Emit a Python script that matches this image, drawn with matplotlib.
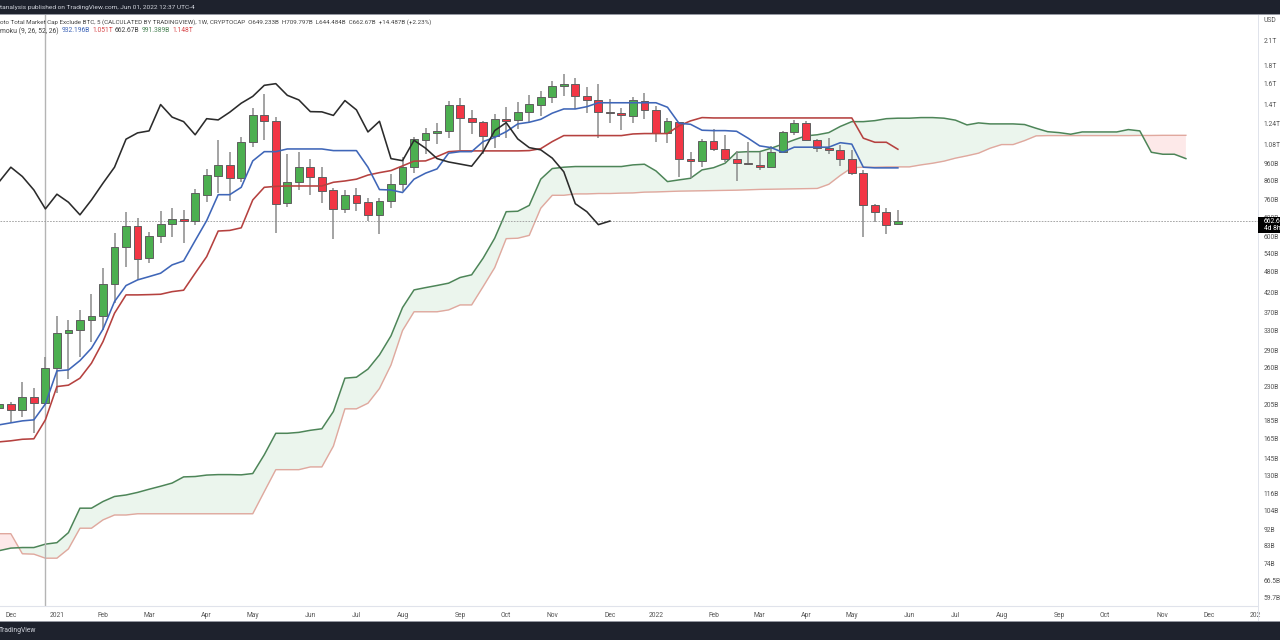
import numpy as np
import matplotlib
matplotlib.use("Agg")
import matplotlib.pyplot as plt
from matplotlib.patches import Rectangle

# all prices in billions USD, one candle per week, week 0 is the crosshair candle
weeks = np.arange(-4, 75)

opens = [199.9, 205.6, 198, 214.6, 206.6, 259.5, 323.3, 329.7, 351.5, 360.5, 444.3, 560.3, 643.6, 522.7, 604, 651,
         673.6, 665, 785.5, 887, 951.7, 872, 1098.4, 1304, 1256, 746, 850, 938, 878, 808, 714, 785, 748, 690, 754,
         841, 940, 1117, 1163, 1181, 1396, 1281, 1251, 1146, 1277, 1270, 1331, 1398, 1465, 1577, 1591, 1473, 1443,
         1336, 1323, 1300, 1431, 1348, 1163, 1248, 985, 976, 1108, 1054, 985, 962, 952, 940, 1032.5, 1175, 1243,
         1117, 1057, 1043, 985, 904, 737, 702, 649.2]
highs = [206.9, 208.7, 237.3, 227.5, 278.4, 361.2, 352.2, 375.4, 415.8, 492.1, 613.3, 704.3, 675.3, 619.8, 707.6, 720,
         712, 813, 924, 1114.7, 1032.5, 1138.6, 1365, 1493, 1294, 1019, 1032.5, 985, 936, 818, 809, 818, 768, 770, 895,
         1002, 1138.6, 1201, 1240, 1431, 1461, 1351, 1261, 1317, 1379, 1423, 1486, 1525, 1629, 1700, 1654, 1562, 1591,
         1446, 1365, 1465, 1505, 1387, 1281, 1253, 1034, 1120, 1196, 1152, 1039, 1098, 1034, 1073, 1183, 1267, 1261,
         1124, 1127, 1080, 1046, 920, 741, 723, 709.8]
lows = [198, 182.5, 188.9, 171.2, 205.6, 220.3, 241.4, 277.3, 305.2, 330.3, 391.9, 495.4, 454.9, 506.3, 575.4, 597.9,
        577.6, 647, 748, 792.4, 754, 853.6, 1068, 1114.7, 613.3, 727, 809.4, 784, 743, 590.3, 697, 707, 662.5, 610, 723,
        806, 904, 1017, 1085, 1131, 1045.6, 1158, 1017, 1057, 1127, 1196, 1253, 1300, 1410, 1473, 1357, 1328, 1127,
        1240, 1188, 1240, 1273, 1103, 1091, 878, 873, 936, 1041, 970, 859, 950, 920, 936, 1028, 1152, 1110,
        1030, 1019, 944, 892, 600, 661, 611, 644.5]
closes = [205.6, 198, 214.6, 207.4, 258.5, 323.3, 330.3, 351.5, 360.5, 443.3, 560.3, 643.6, 521.3, 602.9, 651, 673.6,
          663.7, 792.4, 889, 951.7, 872, 1098.4, 1308, 1259, 738.6, 850, 936, 878, 806, 714, 785, 746, 688, 753, 841,
          938, 1120, 1163, 1178, 1392, 1281, 1253, 1146, 1277, 1261, 1331, 1402, 1465, 1577, 1595, 1480, 1443, 1331,
          1328, 1304, 1437, 1351, 1168, 1256, 985, 974.5, 1108, 1052, 985, 962, 954, 940, 1032.5, 1175, 1243, 1117,
          1061, 1043, 985, 904, 737, 702, 647, 662.67]

conversion = [179.9, 182.2, 184.5, 185.7, 205.6, 254.1, 255.7, 271.4, 293.8, 331.8, 396, 438.8, 454.9, 464.6, 474.8,
              500.8, 513.8, 585, 665, 785, 785, 823, 974.5, 1034, 1034, 1052, 1052, 1052, 1052, 1041, 1041, 1041, 936,
              811, 809, 796, 867, 901, 926, 1024, 1034, 1034, 1103, 1133, 1175, 1235, 1248, 1272, 1323, 1359, 1359,
              1379, 1414, 1414, 1414, 1414, 1414, 1414, 1374, 1240, 1232, 1186, 1183, 1183, 1178, 1127, 1073, 1061,
              1030, 1064, 1064, 1064, 1064, 1095, 1085, 936, 932, 932, 932]
base = [161.3, 162.4, 164, 164.5, 185.7, 229.8, 231.9, 242.5, 266.9, 306.4, 367.5, 413.3, 413.3, 414, 415, 422, 425.9,
        474.8, 528, 622, 624.5, 635, 759, 823, 828, 830, 830, 830, 830, 850, 857, 867, 890, 904, 916, 944, 973, 974.5,
        1002, 1034, 1039, 1039, 1039, 1039, 1039, 1039, 1041, 1054, 1103, 1146, 1146, 1146, 1146, 1146, 1146, 1158,
        1161, 1161, 1161, 1220, 1259, 1286, 1283, 1283, 1283, 1283, 1283, 1283, 1283, 1283, 1283, 1283, 1283, 1283,
        1283, 1127, 1098, 1098, 1050]
lagging = [853.6, 936, 882, 809, 716.7, 787.5, 748, 690, 759, 845, 936, 1120, 1166, 1181, 1398, 1290, 1253, 1152, 1277,
           1267, 1331, 1410, 1473, 1581, 1598, 1483, 1440, 1336, 1334, 1304, 1434, 1351, 1173, 1256, 989, 976, 1112,
           1057, 989, 968, 955, 942, 1034, 1183, 1245, 1122, 1061, 1046, 992, 909, 741, 704, 648, 663]
lead_a = [80.4, 81.7, 82, 82, 83.8, 84.6, 90.2, 105.5, 105.5, 110.1, 113.7, 114.8, 116.7, 119.1, 121.4, 123.9, 128.9,
          129.2, 130.4, 130.8, 130.8, 130.6, 131.7, 148.5, 170.4, 170.4, 171.4, 173.7, 175.4, 195.9, 242.5, 244, 257,
          281.5, 318, 381, 426.7, 433, 439, 445.5, 462, 470, 523, 594, 704, 706, 733, 867, 928, 936, 940, 940, 940,
          940, 940, 950, 954, 914, 853.6, 863, 872, 920, 933, 960, 1030, 1034, 1034, 1057, 1085, 1115, 1144, 1152,
          1168, 1215, 1253, 1253, 1261, 1277, 1281, 1281, 1286, 1286, 1281, 1265, 1227, 1243, 1235, 1235, 1235, 1230,
          1201, 1175, 1168, 1156, 1173, 1173, 1173, 1173, 1191, 1181, 1030, 1017, 1017, 989]
lead_b = [89.6, 89.6, 78.8, 78.6, 76.6, 76.6, 81.3, 92.8, 92.8, 97.9, 101, 101, 101.8, 101.8, 101.8, 101.8, 101.8,
          101.8, 101.8, 101.8, 101.8, 101.8, 101.8, 117.3, 135, 135, 135, 137.4, 137.4, 157, 199.3, 199.3, 206.6, 227,
          263.9, 329, 371, 371, 371, 375.4, 387.6, 387.6, 436, 492, 592.5, 594, 605, 720, 782, 782, 789, 789, 791, 791,
          793, 794, 798, 799, 801, 803, 804, 805, 806, 807, 808, 810, 812, 813, 814, 815, 816, 817, 839, 888, 933, 936,
          936, 938, 938, 938, 950, 960, 973, 992, 1007, 1024, 1057, 1082, 1082, 1110, 1144, 1146, 1146, 1146, 1146,
          1146, 1146, 1146, 1146, 1147, 1147, 1148, 1148, 1148]

price_ticks = [2100, 1800, 1600, 1400, 1240, 1080, 960, 860, 760, 680, 600, 540, 480, 420, 370, 330, 290, 260, 230, 205,
               185, 165, 145, 130, 116, 104, 92, 83, 74, 66.5, 59.7]
price_labels = ["2.1T", "1.8T", "1.6T", "1.4T", "1.24T", "1.08T", "960B", "860B", "760B", "680B", "600B", "540B",
                "480B", "420B", "370B", "330B", "290B", "260B", "230B", "205B", "185B", "165B", "145B", "130B", "116B",
                "104B", "92B", "83B", "74B", "66.5B", "59.7B"]
time_ticks = [-3, 1, 5, 9, 14, 18, 23, 27, 31, 36, 40, 44, 49, 53, 58, 62, 66, 70, 75, 79, 83, 88, 92, 97, 101, 105]
time_labels = ["Dec", "2021", "Feb", "Mar", "Apr", "May", "Jun", "Jul", "Aug", "Sep", "Oct", "Nov", "Dec", "2022", "Feb",
               "Mar", "Apr", "May", "Jun", "Jul", "Aug", "Sep", "Oct", "Nov", "Dec", "202"]

BAR_DARK = "#1e222d"
TEXT_SIZE = 4.85
plt.rcParams["font.family"] = "Roboto"


# text placed in figure pixels, measured from the top left
def px_text(fig, x, y, s, color="#444444", size=TEXT_SIZE, **kw):
    return fig.text(x / 1280, 1 - y / 640, s, color=color, fontsize=size, va="center", **kw)


# filled box in figure pixels, measured from the top left
def px_box(fig, x, y, w, h, color):
    box = Rectangle((x / 1280, 1 - (y + h) / 640), w / 1280, h / 640, transform=fig.transFigure, color=color, lw=0)
    fig.add_artist(box)


fig = plt.figure(figsize=(12.8, 6.4), dpi=100, facecolor="white")
ax = fig.add_axes([0, 1 - 606 / 640, 1258 / 1280, 592 / 640])
ax.set_yscale("log")
ax.set_xlim(-3.94, 105.26)
ax.set_ylim(56.4, 2496)

# ichimoku cloud
cloud_x = np.arange(-4, 100)
span_a = np.array(lead_a)
span_b = np.array(lead_b)
ax.fill_between(cloud_x, span_a, span_b, where=span_a >= span_b, interpolate=True, color="#ebf5ed", lw=0, zorder=1)
ax.fill_between(cloud_x, span_a, span_b, where=span_a < span_b, interpolate=True, color="#fde9e9", lw=0, zorder=1)
ax.plot(cloud_x, lead_b, color="#e0a89e", lw=1.0, zorder=1.5)
ax.plot(cloud_x, lead_a, color="#4d8558", lw=1.1, zorder=1.6)

# reference lines
ax.axvline(0, color="#b4b4b4", lw=1, zorder=1.8)
ax.axhline(closes[-1], color="#9a9a9a", lw=0.6, ls=(0, (2, 1.5)), zorder=1.8)

# candles
o = np.array(opens)
c = np.array(closes)
colors = ["#4caf50" if b >= a else "#f23645" for a, b in zip(opens, closes)]
ax.vlines(weeks, lows, highs, color="#8a8a8a", lw=1.1, zorder=2)
ax.bar(weeks, np.abs(c - o), bottom=np.minimum(o, c), width=0.68, color=colors, edgecolor="#5f5f5f", lw=0.7, zorder=2.5)

# ichimoku lines
ax.plot(weeks, base, color="#b5413f", lw=1.15, zorder=3)
ax.plot(weeks, conversion, color="#3f66b8", lw=1.15, zorder=3.1)
ax.plot(np.arange(-4, 50), lagging, color="#2b2b2b", lw=1.15, zorder=3.2)

# axes and ticks
for side in ["top", "left", "right"]:
    ax.spines[side].set_visible(False)
ax.spines["bottom"].set_color("#e0e3eb")
ax.yaxis.tick_right()
ax.set_yticks(price_ticks)
ax.set_yticklabels(price_labels)
ax.minorticks_off()
ax.set_xticks(time_ticks)
ax.set_xticklabels(time_labels)
ax.tick_params(axis="y", length=0, pad=4.2, labelsize=TEXT_SIZE, labelcolor="#555555")
ax.tick_params(axis="x", length=0, pad=4, labelsize=TEXT_SIZE, labelcolor="#555555")

# scale separator, dark header and footer bars
px_box(fig, 1257.5, 14, 1, 607, "#e0e3eb")
px_box(fig, 0, 0, 1280, 14, BAR_DARK)
px_box(fig, 0, 14, 1280, 1, "#9598a1")
px_box(fig, 0, 622, 1280, 18, BAR_DARK)
px_box(fig, 0, 621, 1280, 1, "#9598a1")
px_text(fig, 0, 7, "tanalysis published on TradingView.com, Jun 01, 2022 12:37 UTC-4", color="#d1d4dc", size=4.65)
px_text(fig, -1, 631, "TradingView", color="#d1d4dc")

# legend lines
px_text(fig, 0, 22, "oto Total Market Cap Exclude BTC, 5 (CALCULATED BY TRADINGVIEW), 1W, CRYPTOCAP  O649.233B  H709.797B  "
                    "L644.484B  C662.67B  +14.487B (+2.23%)", size=4.5)
px_text(fig, 0, 31, "moku (9, 26, 52, 26)")
px_text(fig, 62, 31, "932.196B", color="#3f66b8")
px_text(fig, 92, 31, "1.051T", color="#d8474a")
px_text(fig, 115, 31, "662.67B", color="#444444")
px_text(fig, 142, 31, "991.389B", color="#4d8558")
px_text(fig, 172, 31, "1.148T", color="#d8474a")
px_text(fig, 1263, 21, "USD", color="#555555")

# last price box on the scale
px_box(fig, 1258, 217, 22, 16, "black")
px_text(fig, 1263.5, 221.5, "662.6", color="white")
px_text(fig, 1263.5, 229, "4d 8h", color="white")

fig.savefig("out.png", dpi=100)
